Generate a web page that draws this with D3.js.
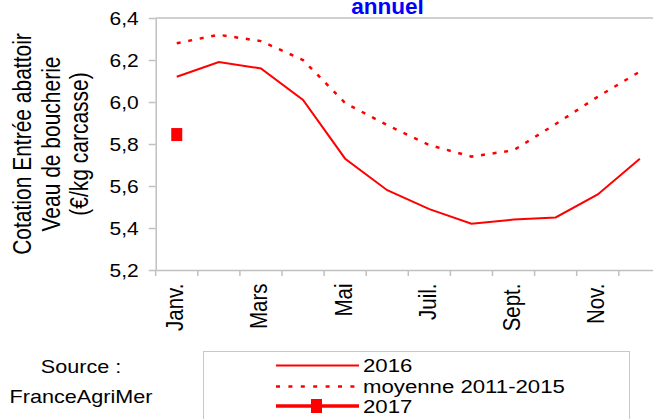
<!DOCTYPE html>
<html>
<head>
<meta charset="utf-8">
<script src="https://cdn.jsdelivr.net/npm/d3@7"></script>
<style>
html,body{margin:0;padding:0;background:#fff;overflow:hidden;}
text{font-family:"Liberation Sans",Arial,sans-serif;fill:#000;}
</style>
</head>
<body>
<svg id="chart" width="653" height="419"></svg>
<script>
const months = ["Janv.","Févr.","Mars","Avr.","Mai","Juin","Juil.","Août","Sept.","Oct.","Nov.","Déc."];
const tickMonths = ["Janv.","Mars","Mai","Juil.","Sept.","Nov."];
const yTicks = [5.2,5.4,5.6,5.8,6.0,6.2,6.4];
const v2016 = [6.12,6.19,6.16,6.01,5.73,5.58,5.49,5.42,5.44,5.45,5.56,5.73];
const vMoyenne = [6.28,6.32,6.29,6.20,5.995,5.89,5.795,5.74,5.77,5.895,6.025,6.145];
const v2017 = [5.845];
const seriesNames = ["2016","moyenne 2011-2015","2017"];
const yTitle = ["Cotation Entrée abattoir","Veau de boucherie","(€/kg carcasse)"];
const chartTitle = "annuel";
const sourceLines = ["Source :","FranceAgriMer"];

const SX = 1.2;
const RED = "#ff0000";
const GRID = "#c0c0c0";
const svg = d3.select("#chart");

const x = d3.scaleBand().domain(months).range([155.7, 155.7 + 12*42.1]).padding(0);
const y = d3.scaleLinear().domain([5.2, 6.4]).range([270, 18]);
const cx = m => x(m) + x.bandwidth()/2;

// title
svg.append("text").attr("transform",`translate(387.5,13.5) scale(1.05,1)`)
  .attr("text-anchor","middle").style("font-size","21.5px").style("font-weight","bold")
  .style("fill","#0000ff").text(chartTitle);

// top border of plot area
svg.append("line").attr("x1",x.range()[0]).attr("x2",x.range()[1])
  .attr("y1",y(6.4)).attr("y2",y(6.4)).attr("stroke",GRID).attr("stroke-width",1.5);

// y axis
const ya = svg.append("g").attr("transform",`translate(${x.range()[0]},0)`)
  .call(d3.axisLeft(y).tickValues(yTicks).tickSize(7).tickSizeOuter(0)
    .tickFormat(d => d.toFixed(1).replace(".",",")));
ya.select(".domain").attr("stroke",GRID).attr("stroke-width",1.5);
ya.selectAll(".tick line").attr("stroke",GRID).attr("stroke-width",1.5);
ya.selectAll(".tick text").attr("x",null).attr("dy","0.36em")
  .attr("transform",`translate(-17,0) scale(${SX},1)`)
  .style("font-size","17.5px").style("font-family","Liberation Sans, Arial, sans-serif").attr("fill","#000");

// x axis
const xa = svg.append("g").attr("transform",`translate(0,${y(5.2)})`)
  .call(d3.axisBottom(x).tickSize(0).tickSizeOuter(0).tickFormat(d => tickMonths.includes(d) ? d : ""));
xa.select(".domain").attr("stroke",GRID).attr("stroke-width",1.5);
xa.selectAll(".tick text").attr("x",null).attr("y",null).attr("dy",null)
  .attr("text-anchor","end")
  .attr("transform",`translate(6.5,13.5) scale(${SX},1) rotate(-90)`)
  .style("font-size","20.5px").style("font-family","Liberation Sans, Arial, sans-serif").attr("fill","#000");
const bounds = months.map(m => x(m)).concat([x.range()[1]]);
svg.append("g").selectAll("line").data(bounds).join("line")
  .attr("x1",d=>d).attr("x2",d=>d).attr("y1",y(5.2)).attr("y2",y(5.2)+6)
  .attr("stroke",GRID).attr("stroke-width",1.5);

// y title
svg.append("g").selectAll("text").data(yTitle).join("text")
  .attr("transform",(d,i)=>`translate(${31 + i*28.5},144) scale(${SX},1) rotate(-90)`)
  .attr("text-anchor","middle").style("font-size","21px").text(d=>d);

// lines
const line = d3.line().x((d,i)=>cx(months[i])).y(d=>y(d));
svg.append("path").datum(vMoyenne).attr("d",line).attr("fill","none")
  .attr("stroke",RED).attr("stroke-width",2.5).attr("stroke-dasharray","4,7.7");
svg.append("path").datum(v2016).attr("d",line).attr("fill","none")
  .attr("stroke",RED).attr("stroke-width",2);
svg.append("path").datum(v2017).attr("d",line).attr("fill","none")
  .attr("stroke",RED).attr("stroke-width",3.5);
svg.append("g").selectAll("rect").data(v2017).join("rect")
  .attr("x",(d,i)=>cx(months[i])-5.5).attr("y",d=>y(d)-6.5)
  .attr("width",11).attr("height",13).attr("fill",RED);

// source
svg.append("g").selectAll("text").data(sourceLines).join("text")
  .attr("transform",(d,i)=>`translate(81,${373 + i*29.5}) scale(${SX},1)`)
  .attr("text-anchor","middle").style("font-size","18px").text(d=>d);

// legend
const lg = svg.append("g");
lg.append("rect").attr("x",203.5).attr("y",351.5).attr("width",426).attr("height",100)
  .attr("fill","#fff").attr("stroke","#c8c8c8").attr("stroke-width",1);
const rowsY = [365.5,386.5,406];
const items = lg.selectAll("g.item").data(seriesNames).join("g").attr("class","item");
items.append("line").attr("x1",276).attr("x2",359).attr("y1",(d,i)=>rowsY[i]).attr("y2",(d,i)=>rowsY[i])
  .attr("stroke",RED)
  .attr("stroke-width",(d,i)=>[2,2.5,3.5][i])
  .attr("stroke-dasharray",(d,i)=>i===1?"4,8.4":null);
lg.append("rect").attr("x",311).attr("y",rowsY[2]-7).attr("width",11).attr("height",14).attr("fill",RED);
items.append("text").attr("transform",(d,i)=>`translate(363,${rowsY[i]+6.5}) scale(${SX},1)`)
  .style("font-size","18.5px").text(d=>d);
</script>
</body>
</html>
